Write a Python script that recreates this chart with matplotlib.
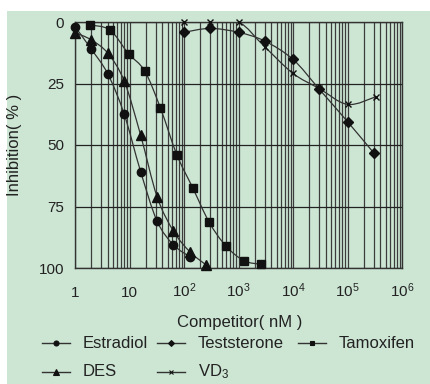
import numpy as np
import matplotlib
matplotlib.use("Agg")
import matplotlib.pyplot as plt
from matplotlib.path import Path
from matplotlib.patches import PathPatch, Rectangle
from matplotlib.lines import Line2D

plt.rcParams['font.family'] = ['Liberation Sans', 'DejaVu Sans']
plt.rcParams['mathtext.fontset'] = 'custom'
plt.rcParams['mathtext.rm'] = 'Liberation Sans'
plt.rcParams['mathtext.it'] = 'Liberation Sans'

# data (concentration in nM, inhibition in %)
estradiol_x = [1, 2, 4, 8, 16, 32, 64, 128]
estradiol_y = [1.9, 11.1, 21.1, 37.5, 60.8, 80.9, 90.6, 95.4]

des_x = [1, 2, 4, 8, 16, 32, 64, 128, 256]
des_y = [4.3, 7.3, 12.7, 24.0, 46.0, 71.0, 85.0, 93.4, 98.8]

tamoxifen_x = [1.9, 4.4, 9.6, 19, 37, 74, 146, 290, 585, 1250, 2550]
tamoxifen_y = [1.2, 3.3, 12.9, 19.9, 35.0, 54.0, 67.6, 81.4, 91.0, 97.0, 98.5]

teststerone_x = [100, 300, 1000, 3000, 10000, 30000, 100000, 300000]
teststerone_y = [4.2, 2.6, 4.2, 7.7, 15.2, 27.2, 40.5, 53.1]

vd3_x = [100, 300, 1000, 3000, 10000, 30000, 100000, 330000]
vd3_y = [0, 0, 0, 10.0, 20.9, 27.0, 33.5, 30.4]

y_ticks = [0, 25, 50, 75, 100]
x_ticks = [1, 10, 100, 1000, 1e4, 1e5, 1e6]
x_tick_labels = ['1', '10', r'$\mathregular{10^2}$', r'$\mathregular{10^3}$',
                 r'$\mathregular{10^4}$', r'$\mathregular{10^5}$', r'$\mathregular{10^6}$']

GREEN = '#cde6d4'
LINE = '#333333'
TXT = '#222222'
W, H = 430.0, 384.0

# px per decade / px per percent, used so the smoothing looks even on screen
SX = 54.4
SY = 2.46


def smooth_path(xs, ys):
    u = np.log10(np.array(xs, dtype=float)) * SX
    v = np.array(ys, dtype=float) * SY
    pts = np.column_stack([u, v])
    verts = [pts[0]]
    codes = [Path.MOVETO]
    n = len(pts)
    for i in range(n - 1):
        p0 = pts[i - 1] if i > 0 else pts[i]
        p1 = pts[i]
        p2 = pts[i + 1]
        p3 = pts[i + 2] if i + 2 < n else pts[i + 1]
        c1 = p1 + (p2 - p0) / 6.0
        c2 = p2 - (p3 - p1) / 6.0
        verts += [c1, c2, p2]
        codes += [Path.CURVE4] * 3
    verts = np.array(verts)
    return Path(np.column_stack([10 ** (verts[:, 0] / SX), verts[:, 1] / SY]), codes)


fig = plt.figure(figsize=(4.3, 3.84), dpi=100)
fig.patch.set_facecolor('white')
fig.patches.append(Rectangle((7 / W, 0), 1, (H - 11) / H, transform=fig.transFigure,
                             facecolor=GREEN, edgecolor='none', zorder=-10))

ax = fig.add_axes([75 / W, (H - 268) / H, 327 / W, 246 / H])
ax.set_facecolor(GREEN)
ax.set_xscale('log')
ax.set_xlim(1, 1e6)
ax.set_ylim(100, 0)

ax.grid(True, which='both', axis='x', color='#3c3c3c', lw=0.9)
ax.grid(True, which='major', axis='y', color='#222222', lw=0.9)
ax.set_axisbelow(True)

series = [
    ('Estradiol', estradiol_x, estradiol_y, 'o', 6),
    ('DES', des_x, des_y, '^', 6.5),
    ('Teststerone', teststerone_x, teststerone_y, 'D', 5),
    ('VD$_3$', vd3_x, vd3_y, 'x', 5),
    ('Tamoxifen', tamoxifen_x, tamoxifen_y, 's', 5.5),
]

for name, xs, ys, mk, ms in series:
    ax.add_patch(PathPatch(smooth_path(xs, ys), fill=False, ec=LINE, lw=0.9, zorder=2))
    ax.plot(xs, ys, ls='none', marker=mk, ms=ms, color='#111111', mew=1.0,
            clip_on=False, zorder=3)

for s in ax.spines.values():
    s.set_color(LINE)
    s.set_linewidth(1.0)

ax.set_yticks(y_ticks)
ax.set_yticklabels([str(t) for t in y_ticks])
ax.set_xticks(x_ticks)
ax.set_xticklabels(x_tick_labels)
ax.tick_params(which='both', length=0)
ax.tick_params(axis='y', labelsize=11, pad=8, colors=TXT)
ax.tick_params(axis='x', labelsize=11, pad=21, colors=TXT)
for lab in ax.get_xticklabels():
    lab.set_va('baseline')

fig.text(15 / W, 1 - 145 / H, 'Inhibition( % )', rotation=90, ha='center', va='center',
         fontsize=12, color=TXT)
fig.text(240 / W, 1 - 323 / H, 'Competitor( nM )', ha='center', va='center',
         fontsize=12, color=TXT)

# legend laid out by hand, two rows as in the reference
legend_slots = {
    'Estradiol': (42, 343), 'Teststerone': (157, 343), 'Tamoxifen': (298, 343),
    'DES': (42, 372), 'VD$_3$': (157, 372),
}
for name, xs, ys, mk, ms in series:
    x0, yy = legend_slots[name]
    yf = 1 - yy / H
    fig.add_artist(Line2D([x0 / W, (x0 + 28) / W], [yf, yf], transform=fig.transFigure,
                          color=LINE, lw=1.0))
    fig.add_artist(Line2D([(x0 + 14) / W], [yf], transform=fig.transFigure, ls='none',
                          marker=mk, ms=ms * 0.6, mew=0.8, color='#111111'))
    fig.text((x0 + 41) / W, yf, name, ha='left', va='center', fontsize=12, color=TXT)

fig.savefig('out.png', dpi=100, facecolor=fig.get_facecolor())
